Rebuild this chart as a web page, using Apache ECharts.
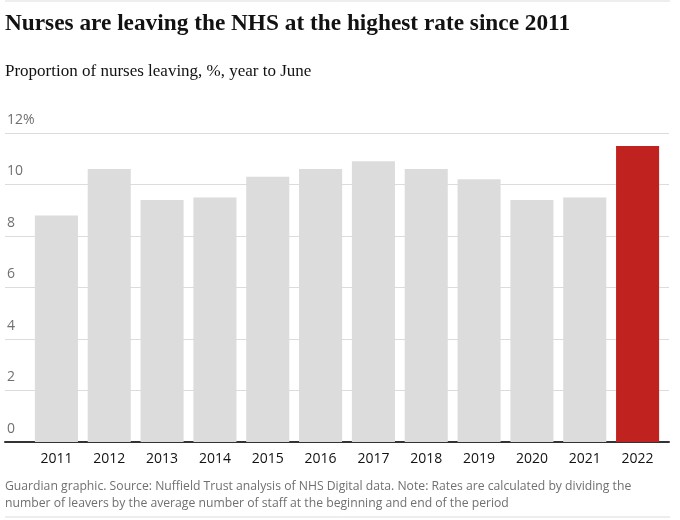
<!DOCTYPE html>
<html lang="en">
<head>
    <meta charset="UTF-8">
    <title>Nurses leaving the NHS</title>
    <script type="text/javascript" src="https://cdn.jsdelivr.net/npm/echarts@6/dist/echarts.min.js"></script>
    <style>
        html, body { margin: 0; padding: 0; background: #fff; }
        #chart { width: 680px; height: 520px; }
    </style>
</head>
<body>
<div id="chart"></div>
<script type="text/javascript">
    // data
    var years = ['2011', '2012', '2013', '2014', '2015', '2016', '2017', '2018', '2019', '2020', '2021', '2022'];
    var leavingRate = [8.8, 10.6, 9.4, 9.5, 10.3, 10.6, 10.9, 10.6, 10.2, 9.4, 9.5, 11.5];
    var yTicks = [0, 2, 4, 6, 8, 10, 12];
    var highlightYear = '2022';

    var sans = 'Open Sans';
    var serif = 'Liberation Serif';

    var chart = echarts.init(document.getElementById('chart'));

    chart.setOption({
        animation: false,
        title: [{
            text: 'Nurses are leaving the NHS at the highest rate since 2011',
            left: 0, top: 7,
            textStyle: {fontFamily: serif, fontWeight: 'bold', fontSize: 23.3, color: '#121212'}
        }, {
            text: 'Proportion of nurses leaving, %, year to June',
            left: 0, top: 58,
            textStyle: {fontFamily: serif, fontWeight: 'normal', fontSize: 17, color: '#121212'}
        }, {
            text: 'Guardian graphic. Source: Nuffield Trust analysis of NHS Digital data. Note: Rates are calculated by dividing the\nnumber of leavers by the average number of staff at the beginning and end of the period',
            left: 0, top: 473,
            textStyle: {fontFamily: sans, fontWeight: 'normal', fontSize: 12.2, color: '#707070', lineHeight: 17}
        }],
        graphic: [
            {type: 'line', shape: {x1: 5, y1: 1, x2: 670, y2: 1}, style: {stroke: '#dcdcdc', lineWidth: 1}},
            {type: 'line', shape: {x1: 5, y1: 517, x2: 670, y2: 517}, style: {stroke: '#dcdcdc', lineWidth: 1}}
        ],
        grid: [
            // full width grid for the gridlines and baseline
            {left: 5, right: 11, top: 133, bottom: 78},
            // narrower grid for the bars
            {left: 30, right: 16, top: 133, bottom: 78}
        ],
        xAxis: [{
            gridIndex: 0, type: 'value', min: 0, max: 1,
            axisLine: {show: true, lineStyle: {color: '#333', width: 2}},
            axisTick: {show: false}, axisLabel: {show: false}, splitLine: {show: false}
        }, {
            gridIndex: 1, type: 'category', data: years,
            axisLine: {show: false}, axisTick: {show: false},
            axisLabel: {fontFamily: sans, fontSize: 14, color: '#121212', margin: 10}
        }],
        yAxis: [{
            gridIndex: 0, type: 'value', min: yTicks[0], max: yTicks[yTicks.length - 1], interval: 2,
            axisLine: {show: false}, axisTick: {show: false},
            splitLine: {lineStyle: {color: '#dcdcdc', width: 1}},
            axisLabel: {
                inside: true, margin: 2, verticalAlign: 'bottom', padding: [0, 0, 6, 0],
                fontFamily: sans, fontSize: 14, color: '#707070',
                formatter: function (v) { return v === 12 ? v + '%' : v; }
            }
        }, {
            gridIndex: 1, type: 'value', min: yTicks[0], max: yTicks[yTicks.length - 1], interval: 2,
            show: false
        }],
        series: [{
            type: 'bar',
            xAxisIndex: 1, yAxisIndex: 1,
            data: leavingRate,
            barCategoryGap: '18.5%',
            itemStyle: {
                color: function (p) { return years[p.dataIndex] === highlightYear ? '#c0231f' : '#dcdcdc'; }
            }
        }]
    });
</script>
</body>
</html>
